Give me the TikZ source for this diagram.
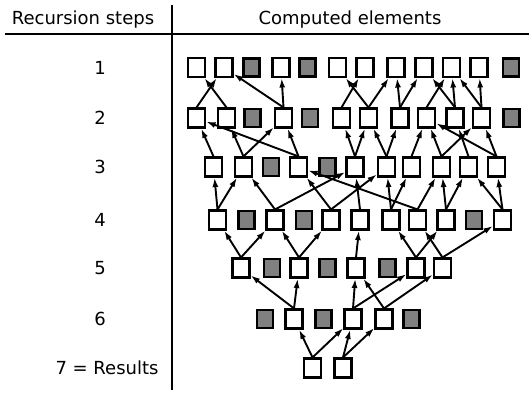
\documentclass[tikz,border=0pt]{standalone}
\usepackage{fontspec}
\setmainfont{DejaVu Sans}
\usetikzlibrary{arrows.meta}
\begin{document}
\begin{tikzpicture}[x=1pt,y=-1pt,
  elem/.style={draw=black, line width=2.1pt, fill=white, minimum width=17pt, minimum height=19pt, inner sep=0pt},
  shd/.style={draw=black, line width=2.1pt, fill=black!50, minimum width=16pt, minimum height=18pt, inner sep=0pt},
  dep/.style={line width=1.9pt, -{Latex[length=9.5pt,width=6pt]}},
  lbl/.style={font=\fontsize{18}{20}\selectfont, inner sep=0pt},
  rule/.style={line width=1.6pt}
]
\useasboundingbox (0,0) rectangle (529,395);
% header and rules
\node[lbl] (h1) at (83,20) {Recursion steps};
\node[lbl] (h2) at (350,20) {Computed elements};
\coordinate (hl) at (5,34);
\coordinate (hr) at (529,34);
\coordinate (vt) at (172,5);
\coordinate (vb) at (172,390);
\draw[rule] (hl) -- (hr);
\draw[rule] (vt) -- (vb);
% step labels
\node[lbl] (s1) at (100,67.5) {1};
\node[lbl] (s2) at (100,118) {2};
\node[lbl] (s3) at (100,167) {3};
\node[lbl] (s4) at (100,220) {4};
\node[lbl] (s5) at (100,268) {5};
\node[lbl] (s6) at (100,319) {6};
\node[lbl] (s7) at (107,368) {7 = Results};
% rows of elements
\foreach \x/\s [count=\i] in {196.5/elem,224/elem,251.5/shd,281/elem,307.5/shd,337.5/elem,365/elem,396/elem,424/elem,451.5/elem,479/elem,511/shd}
  \node[\s] (a\i) at (\x,67.5) {};
\foreach \x/\s [count=\i] in {196.5/elem,226.5/elem,252.5/shd,283.5/elem,310/shd,341.5/elem,368.5/elem,400/elem,426.5/elem,455/elem,481.5/elem,511.5/shd}
  \node[\s] (b\i) at (\x,118) {};
\foreach \x/\s [count=\i] in {213.5/elem,243.5/elem,271/shd,298.5/elem,327.5/shd,355/elem,386.5/elem,411.5/elem,441.5/elem,468.5/elem,496.5/elem}
  \node[\s] (c\i) at (\x,167) {};
\foreach \x/\s [count=\i] in {217.5/elem,246.5/shd,275/elem,304/shd,331/elem,360/elem,391/elem,417.5/elem,446/elem,474/shd,502.5/elem}
  \node[\s] (d\i) at (\x,220) {};
\foreach \x/\s [count=\i] in {241/elem,272/shd,299/elem,327.5/shd,356/elem,387.5/shd,416/elem,442.5/elem}
  \node[\s] (e\i) at (\x,268) {};
\foreach \x/\s [count=\i] in {265/shd,294/elem,323.5/shd,353/elem,384/elem,411.5/shd}
  \node[\s] (f\i) at (\x,319) {};
\foreach \x/\s [count=\i] in {312.5/elem,343/elem}
  \node[\s] (g\i) at (\x,368) {};
% dependencies
\foreach \p/\q in {g1/f2,g1/f4,g2/f4,g2/f5,
  f2/e1,f2/e3,f4/e5,f4/e7,f5/e5,f5/e8,
  e1/d1,e1/d3,e3/d3,e3/d5,e5/d6,e7/d7,e7/d9,e8/d8,e8/d11,
  d1/c1,d1/c2,d3/c2,d3/c6,d5/c4,d5/c7,d6/c6,d7/c7,d7/c8,d8/c4,d8/c9,d9/c9,d9/c10,d11/c10,d11/c11,
  c1/b1,c2/b2,c2/b4,c4/b4,c4/b1,c6/b6,c6/b7,c7/b7,c7/b8,c8/b9,c9/b9,c9/b11,c10/b10,c11/b9,c11/b11,
  b1/a2,b2/a1,b4/a2,b4/a4,b6/a7,b7/a6,b7/a8,b8/a8,b8/a9,b9/a10,b10/a9,b10/a10,b11/a10,b11/a11}
  \draw[dep] (\p.north) -- (\q);
\end{tikzpicture}
\end{document}
